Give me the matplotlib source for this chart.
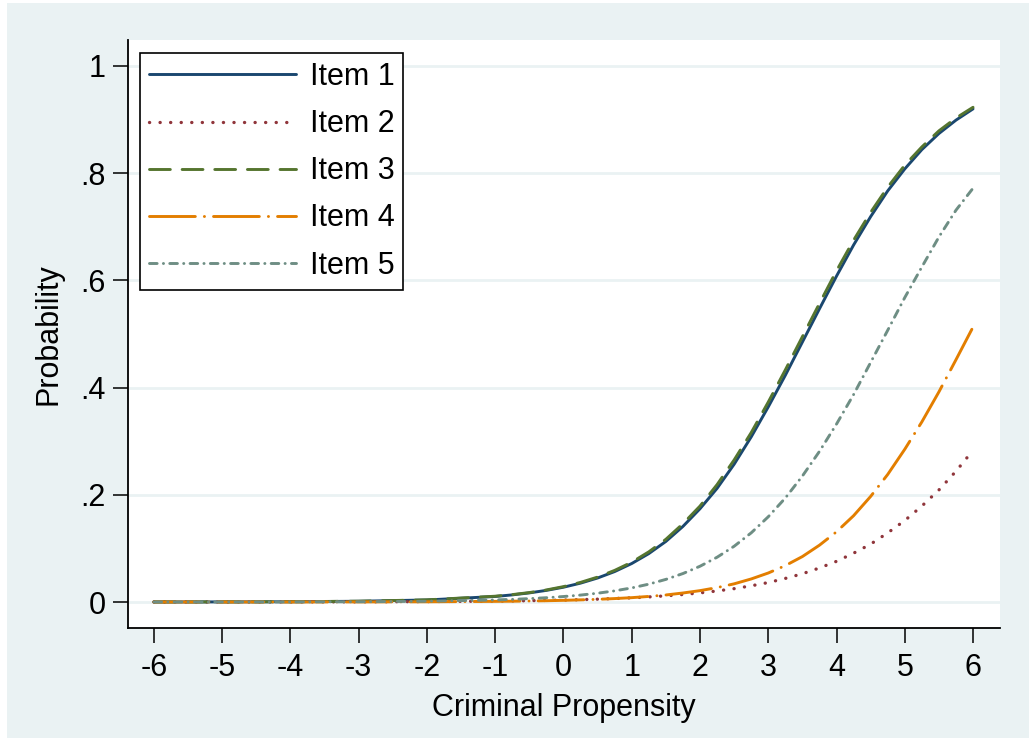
import matplotlib
matplotlib.use("Agg")

import matplotlib.pyplot as plt
from matplotlib.patches import Rectangle

# theta grid and item characteristic curves
theta = [-6, -5, -4, -3, -2,
         -1, -0.75, -0.5, -0.25, 0, 0.25, 0.5, 0.75, 1, 1.25, 1.5, 1.75, 2, 2.25, 2.5, 2.75,
         3, 3.25, 3.5, 3.75, 4, 4.25, 4.5, 4.75, 5, 5.25, 5.5, 5.75, 6]

item1 = [0.0001, 0.0002, 0.0005, 0.0014, 0.0038,
         0.0103, 0.0133, 0.0170, 0.0217, 0.0276, 0.0352, 0.0448, 0.0568, 0.0718, 0.0903,
         0.113, 0.141, 0.174, 0.212, 0.257, 0.308, 0.364, 0.423, 0.485, 0.547, 0.608,
         0.666, 0.719, 0.767, 0.808, 0.844, 0.874, 0.899, 0.920]
item2 = [0.00003, 0.00007, 0.0002, 0.0003, 0.0008,
         0.0017, 0.0020, 0.0025, 0.0030, 0.0036, 0.0044, 0.0053, 0.0065, 0.0078, 0.0095,
         0.0115, 0.0140, 0.0170, 0.0206, 0.0249, 0.0302, 0.0363, 0.0440, 0.0527, 0.0635,
         0.0759, 0.0911, 0.108, 0.129, 0.152, 0.179, 0.209, 0.244, 0.283]
item3 = [0.0001, 0.0002, 0.0005, 0.0015, 0.0040,
         0.0108, 0.0138, 0.0176, 0.0225, 0.0287, 0.0366, 0.0465, 0.0590, 0.0743, 0.0936,
         0.117, 0.146, 0.179, 0.219, 0.265, 0.316, 0.373, 0.433, 0.495, 0.557, 0.618,
         0.675, 0.727, 0.774, 0.815, 0.849, 0.879, 0.903, 0.923]
item4 = [0.00001, 0.00002, 0.00006, 0.0002, 0.0004,
         0.0012, 0.0015, 0.0019, 0.0024, 0.0031, 0.0040, 0.0050, 0.0064, 0.0081, 0.0104,
         0.0131, 0.0168, 0.0212, 0.0269, 0.0339, 0.0430, 0.0541, 0.0679, 0.0848, 0.106,
         0.131, 0.161, 0.197, 0.238, 0.285, 0.336, 0.392, 0.452, 0.513]
item5 = [0.00003, 0.00007, 0.0002, 0.0005, 0.0014,
         0.0039, 0.0049, 0.0063, 0.0080, 0.0102, 0.0129, 0.0164, 0.0208, 0.0263, 0.0333,
         0.0422, 0.0531, 0.0667, 0.0835, 0.104, 0.129, 0.159, 0.194, 0.235, 0.281, 0.332,
         0.387, 0.447, 0.507, 0.568, 0.625, 0.681, 0.731, 0.772]

labels = ["Item 1", "Item 2", "Item 3", "Item 4", "Item 5"]
colors = ["#1a476f", "#90353b", "#55752f", "#e37e00", "#6e8e84"]
styles = ["-", (0, (0.1, 7.5)), (0, (15, 8.5)), (0, (33, 6.5, 0.1, 6.5)), (0, (5.5, 4.5, 0.1, 4.5))]
widths = [2.1, 2.4, 2.1, 2.1, 2.1]

bg = "#eaf2f3"
plt.rcParams["font.family"] = ["Liberation Sans", "DejaVu Sans"]
plt.rcParams["lines.scale_dashes"] = False
plt.rcParams["axes.unicode_minus"] = False

W, H = 1029, 738
fig = plt.figure(figsize=(W / 100, H / 100), dpi=100)
fig.patch.set_facecolor(bg)
# thin white margin along the top and left edges
fig.add_artist(Rectangle((0, 0), 7 / W, 1, transform=fig.transFigure,
                         facecolor="white", edgecolor="none", zorder=-5))
fig.add_artist(Rectangle((0, 1 - 3 / H), 1, 3 / H, transform=fig.transFigure,
                         facecolor="white", edgecolor="none", zorder=-5))

left, right, top, bottom = 128, 1000, 40, 628
ax = fig.add_axes([left / W, 1 - bottom / H, (right - left) / W, (bottom - top) / H])
ax.set_facecolor("white")

for y, lab, c, ls, lw in zip([item1, item2, item3, item4, item5], labels, colors, styles, widths):
    ax.plot(theta, y, color=c, linestyle=ls, lw=lw, label=lab,
            dash_capstyle="round", solid_capstyle="round", zorder=3)

ax.set_xlim(-6.38, 6.395)
ax.set_ylim(-0.0485, 1.0485)
ax.set_xticks(range(-6, 7))
ax.set_yticks([0, 0.2, 0.4, 0.6, 0.8, 1])
ax.set_yticklabels(["0", ".2", ".4", ".6", ".8", "1"])

for v in [0, 0.2, 0.4, 0.6, 0.8, 1]:
    ax.axhline(v, color=bg, lw=2, zorder=1)

for s in ["top", "right"]:
    ax.spines[s].set_visible(False)
for s in ["left", "bottom"]:
    ax.spines[s].set_linewidth(1.3)
    ax.spines[s].set_color("black")

ax.tick_params(axis="both", direction="out", length=11, width=1.1, labelsize=22)
ax.tick_params(axis="x", pad=7)
ax.tick_params(axis="y", pad=5)

ax.set_xlabel("Criminal Propensity", fontsize=22, labelpad=7)
ax.set_ylabel("Probability", fontsize=22, labelpad=12)

leg = ax.legend(loc="upper left", bbox_to_anchor=(12 / (right - left), 1 - 13 / (bottom - top)),
                borderaxespad=0, fontsize=22, handlelength=4.8, handletextpad=0.45,
                labelspacing=0.56, borderpad=0.3, fancybox=False, framealpha=1)
leg.get_frame().set_edgecolor("black")
leg.get_frame().set_linewidth(1.2)

fig.savefig("out.png", dpi=100, facecolor=fig.get_facecolor())
